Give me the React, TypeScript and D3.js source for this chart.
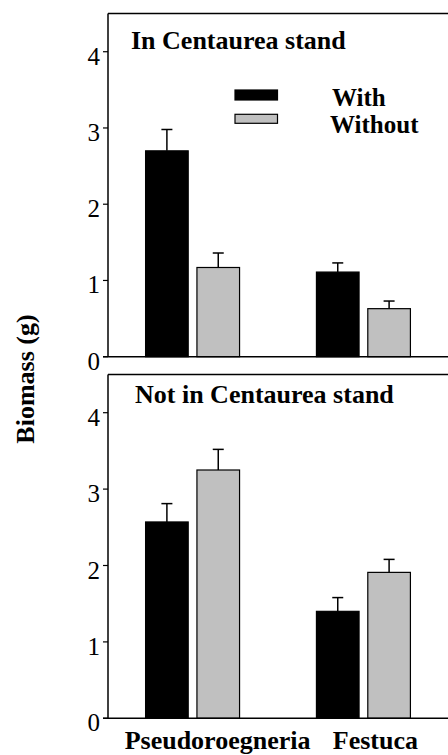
import React from "react";
import * as d3 from "d3";

const CATEGORIES = ["Pseudoroegneria", "Festuca"];
const SERIES = [
  { key: "with", label: "With", color: "#000000" },
  { key: "without", label: "Without", color: "#c0c0c0" },
] as const;
const Y_TICKS = [0, 1, 2, 3, 4];

// In Centaurea stand
const IN_WITH = [2.7, 1.11];
const IN_WITH_SE = [0.28, 0.12];
const IN_WITHOUT = [1.17, 0.63];
const IN_WITHOUT_SE = [0.19, 0.1];

// Not in Centaurea stand
const NOT_WITH = [2.57, 1.4];
const NOT_WITH_SE = [0.24, 0.18];
const NOT_WITHOUT = [3.25, 1.91];
const NOT_WITHOUT_SE = [0.27, 0.17];

const FONT = "Liberation Serif, Times New Roman, serif";
const W = 448;
const H = 755;
const LEFT = 108;

interface PanelProps {
  title: string;
  titleX: number;
  titleY: number;
  top: number;
  bottom: number;
  withVals: number[];
  withSe: number[];
  withoutVals: number[];
  withoutSe: number[];
  legend?: boolean;
}

function Panel({ title, titleX, titleY, top, bottom, withVals, withSe, withoutVals, withoutSe, legend }: PanelProps) {
  const x = d3.scaleBand<string>().domain(CATEGORIES).range([LEFT, W]).paddingInner(0.45).paddingOuter(0.22);
  const inner = d3.scaleBand<string>().domain(SERIES.map((s) => s.key)).range([0, x.bandwidth()]).paddingInner(0.17);
  const y = d3.scaleLinear().domain([0, 4.5]).range([bottom, top]);

  const rows = CATEGORIES.map((c, i) => [
    { key: "with", v: withVals[i], se: withSe[i], color: SERIES[0].color },
    { key: "without", v: withoutVals[i], se: withoutSe[i], color: SERIES[1].color },
  ]);

  return (
    <g>
      {/* frame */}
      <line x1={LEFT} x2={W} y1={y(4.5)} y2={y(4.5)} stroke="#000" strokeWidth={1.5} />
      <line x1={LEFT} x2={LEFT} y1={y(4.5)} y2={y(0)} stroke="#000" strokeWidth={1.5} />

      {/* bars */}
      {CATEGORIES.map((c, i) =>
        rows[i].map((b) => {
          const bx = (x(c) || 0) + (inner(b.key) || 0);
          const bw = inner.bandwidth();
          const cx = bx + bw / 2;
          return (
            <g key={c + b.key}>
              <line x1={cx} x2={cx} y1={y(b.v)} y2={y(b.v + b.se)} stroke="#000" strokeWidth={1.5} />
              <line x1={cx - 5.5} x2={cx + 5.5} y1={y(b.v + b.se)} y2={y(b.v + b.se)} stroke="#000" strokeWidth={1.5} />
              <rect x={bx} y={y(b.v)} width={bw} height={y(0) - y(b.v)} fill={b.color} stroke="#000" strokeWidth={1.2} />
            </g>
          );
        })
      )}

      <line x1={LEFT - 5} x2={W} y1={y(0)} y2={y(0)} stroke="#000" strokeWidth={1.5} />

      {/* y ticks */}
      {Y_TICKS.map((t) => (
        <g key={t}>
          <line x1={LEFT - 5} x2={LEFT} y1={y(t)} y2={y(t)} stroke="#000" strokeWidth={1.2} />
          <text x={LEFT - 8} y={y(t) + 13} textAnchor="end" fontSize={25} fontFamily={FONT} fill="#000">
            {t}
          </text>
        </g>
      ))}

      <text x={titleX} y={titleY} fontSize={26} fontWeight="bold" fontFamily={FONT} fill="#000">
        {title}
      </text>

      {legend && (
        <g>
          {SERIES.map((s, i) => (
            <g key={s.key}>
              <rect x={235} y={90 + i * 24.3} width={42.5} height={i === 0 ? 10 : 9} fill={s.color} stroke="#000" strokeWidth={1.2} />
              <text x={i === 0 ? 332 : 330} y={i === 0 ? 106 : 133} fontSize={25} fontWeight="bold" fontFamily={FONT} fill="#000">
                {s.label}
              </text>
            </g>
          ))}
        </g>
      )}
    </g>
  );
}

export default function App() {
  const x = d3.scaleBand<string>().domain(CATEGORIES).range([LEFT, W]).paddingInner(0.45).paddingOuter(0.22);

  return (
    <div style={{ position: "absolute", left: 0, top: 0, width: W, height: H, background: "#fff" }}>
      <svg width={W} height={H} style={{ display: "block" }}>
        <Panel
          title="In Centaurea stand"
          titleX={131}
          titleY={49}
          top={13.6}
          bottom={356.7}
          withVals={IN_WITH}
          withSe={IN_WITH_SE}
          withoutVals={IN_WITHOUT}
          withoutSe={IN_WITHOUT_SE}
          legend
        />
        <Panel
          title="Not in Centaurea stand"
          titleX={135}
          titleY={403}
          top={374.5}
          bottom={718.3}
          withVals={NOT_WITH}
          withSe={NOT_WITH_SE}
          withoutVals={NOT_WITHOUT}
          withoutSe={NOT_WITHOUT_SE}
        />

        {/* x labels */}
        {CATEGORIES.map((c, i) => (
          <text
            key={c}
            x={(x(c) || 0) + x.bandwidth() / 2 + (i === 0 ? 25 : 12)}
            y={749}
            textAnchor="middle"
            fontSize={26}
            fontWeight="bold"
            fontFamily={FONT}
            fill="#000"
          >
            {c}
          </text>
        ))}

        {/* y label */}
        <text
          transform="translate(34,379) rotate(-90)"
          textAnchor="middle"
          fontSize={26}
          fontWeight="bold"
          fontFamily={FONT}
          fill="#000"
        >
          Biomass (g)
        </text>
      </svg>
    </div>
  );
}
